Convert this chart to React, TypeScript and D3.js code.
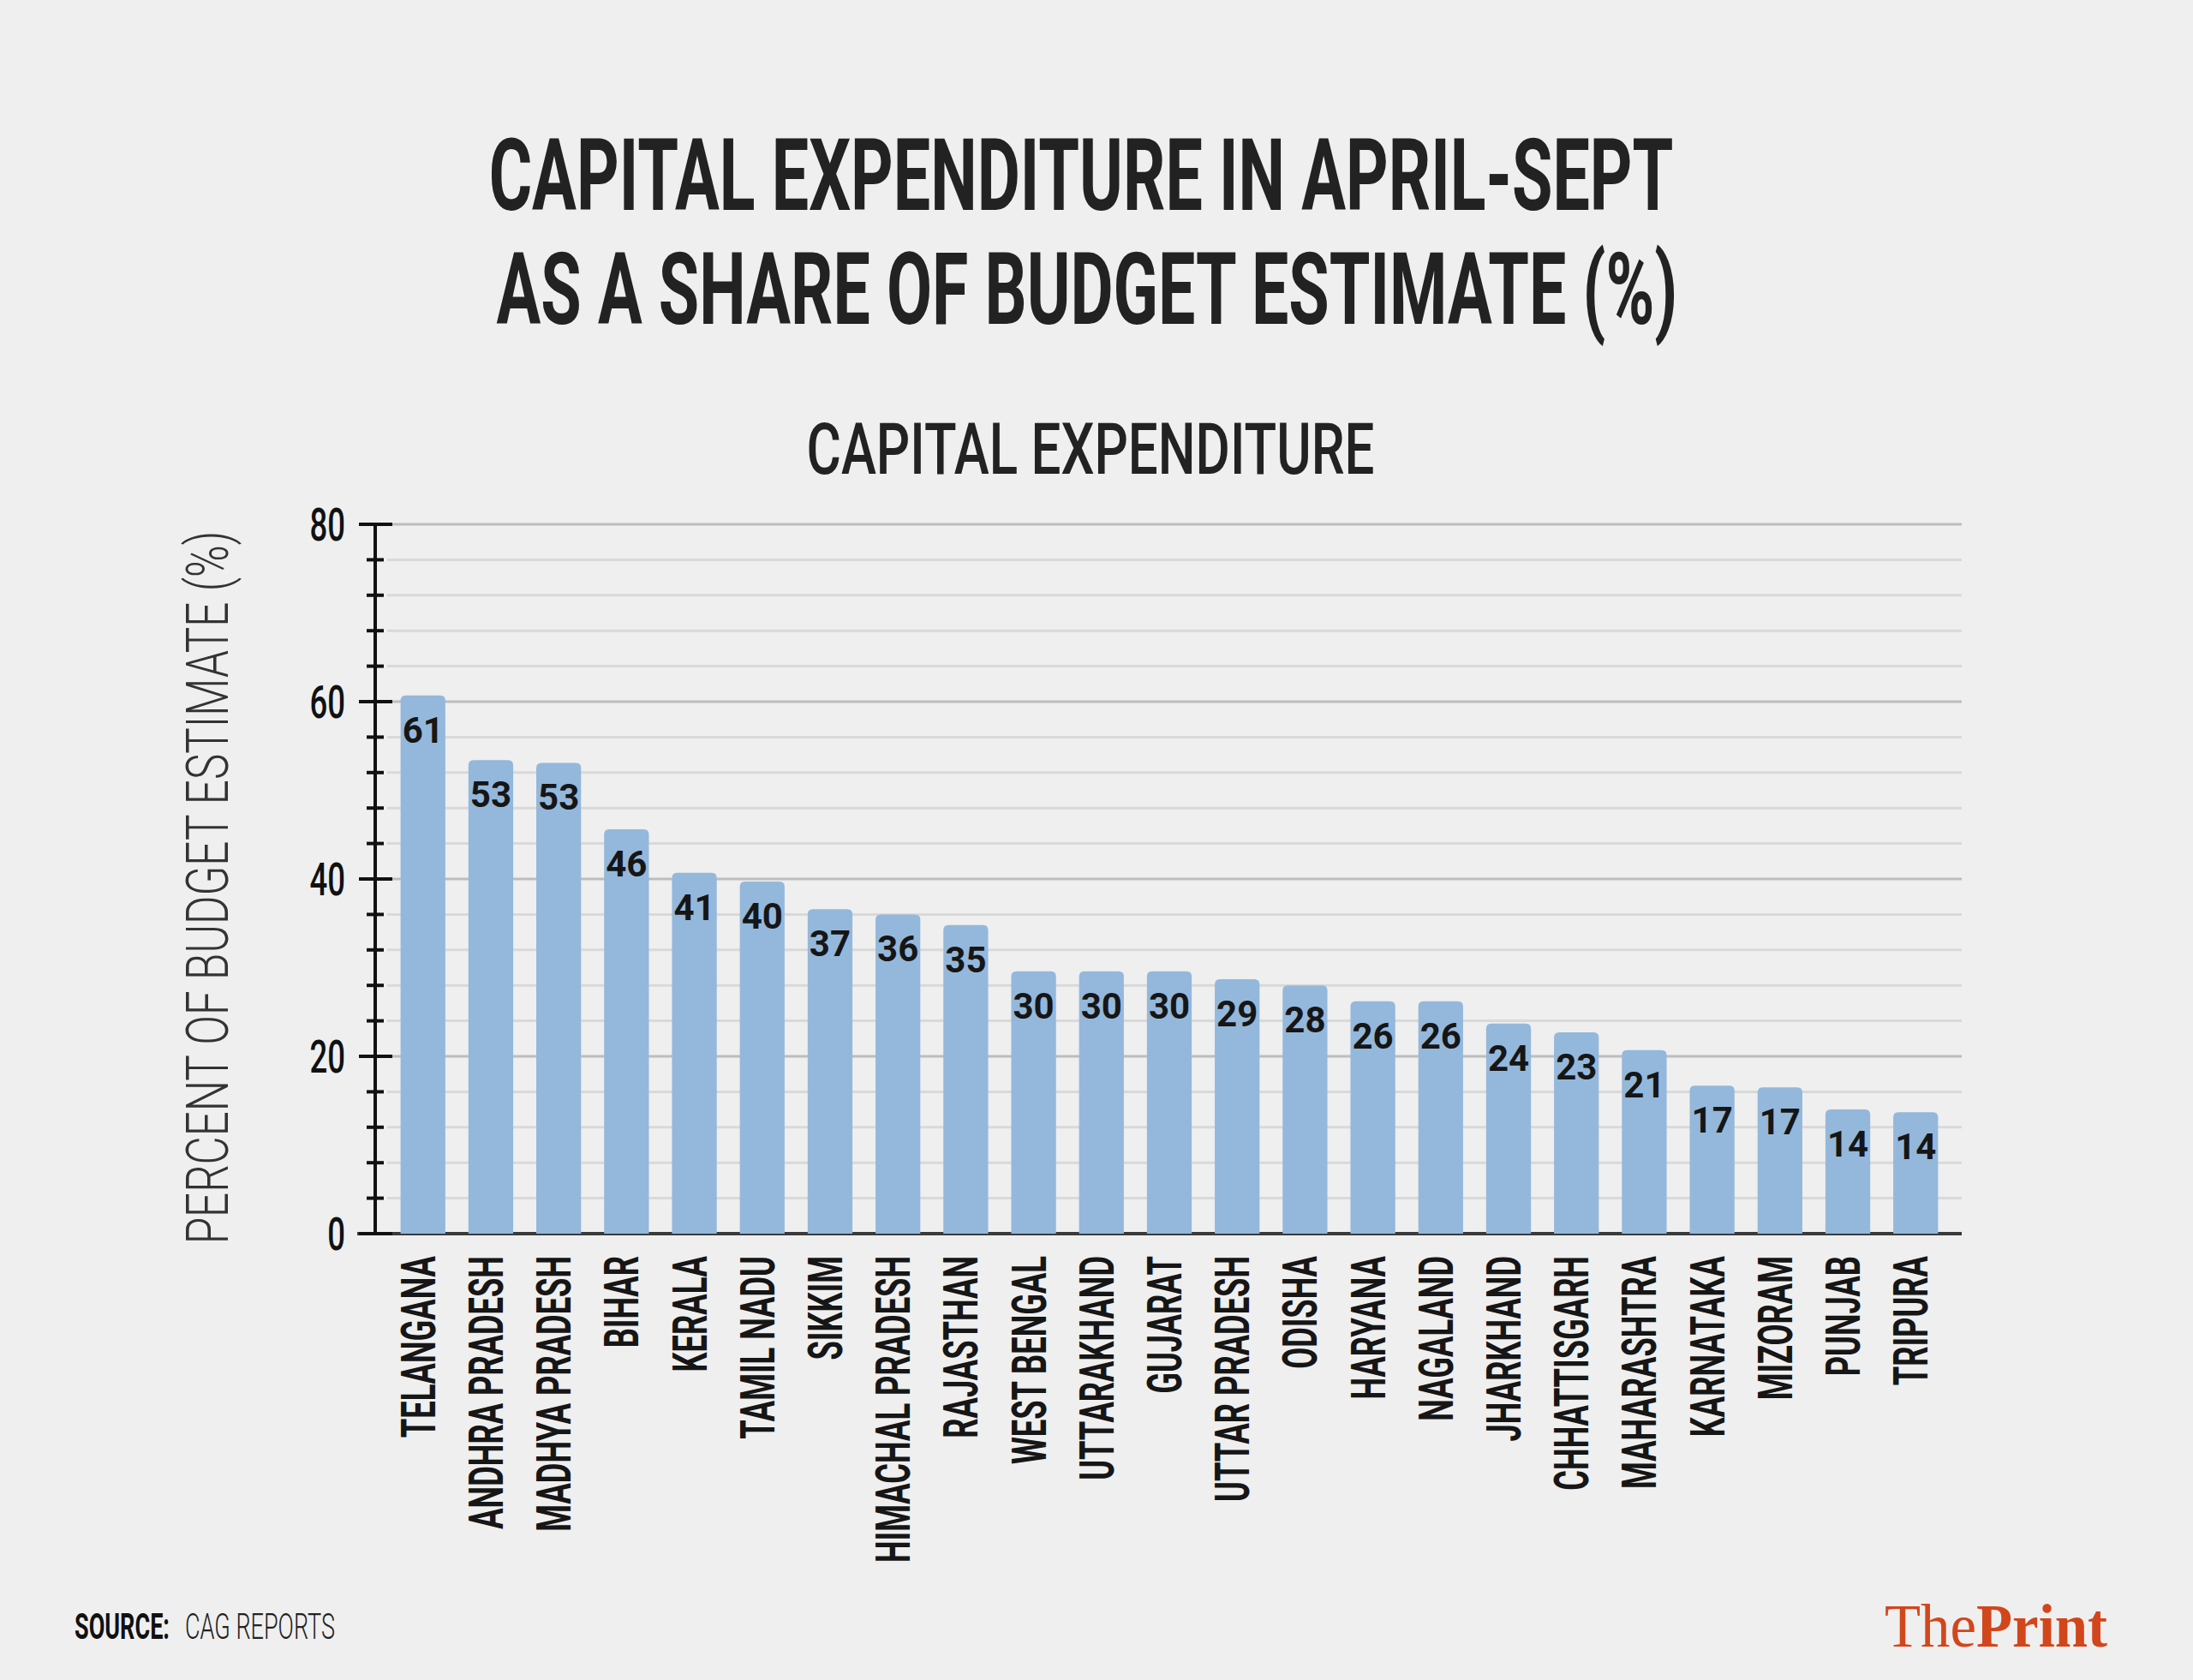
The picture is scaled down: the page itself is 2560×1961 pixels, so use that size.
import React, { useLayoutEffect, useRef, useState } from 'react';
import * as d3 from 'd3';

const states = [
  'TELANGANA', 'ANDHRA PRADESH', 'MADHYA PRADESH', 'BIHAR', 'KERALA', 'TAMIL NADU',
  'SIKKIM', 'HIMACHAL PRADESH', 'RAJASTHAN', 'WEST BENGAL', 'UTTARAKHAND', 'GUJARAT',
  'UTTAR PRADESH', 'ODISHA', 'HARYANA', 'NAGALAND', 'JHARKHAND', 'CHHATTISGARH',
  'MAHARASHTRA', 'KARNATAKA', 'MIZORAM', 'PUNJAB', 'TRIPURA',
];
const values = [
  60.7, 53.4, 53.1, 45.6, 40.7, 39.7, 36.6, 36.0, 34.8, 29.6, 29.6, 29.6,
  28.7, 28.0, 26.2, 26.2, 23.7, 22.7, 20.7, 16.7, 16.5, 14.0, 13.7,
];
const valueLabels = [
  '61', '53', '53', '46', '41', '40', '37', '36', '35', '30', '30', '30',
  '29', '28', '26', '26', '24', '23', '21', '17', '17', '14', '14',
];
const yTicks = [0, 20, 40, 60, 80];
const titleLines = ['CAPITAL EXPENDITURE IN APRIL-SEPT', 'AS A SHARE OF BUDGET ESTIMATE (%)'];
const subtitle = 'CAPITAL EXPENDITURE';
const yAxisLabel = 'PERCENT OF BUDGET ESTIMATE (%)';
const sourceLabel = 'SOURCE:';
const sourceText = 'CAG REPORTS';

const FONT = 'Roboto, "Noto Sans", sans-serif';

type FitProps = {
  x: number;
  y: number;
  width: number;
  anchor: 'start' | 'middle' | 'end';
  rotate?: number;
  children: React.ReactNode;
  [k: string]: any;
};

function FitText({ x, y, width, anchor, rotate = 0, children, ...rest }: FitProps) {
  const ref = useRef<SVGTextElement>(null);
  const [s, setS] = useState(1);
  useLayoutEffect(() => {
    if (ref.current) {
      const len = ref.current.getComputedTextLength();
      if (len > 0) setS(width / len);
    }
  }, [width, children]);
  return (
    <g transform={`translate(${x},${y}) rotate(${rotate}) scale(${s},1)`}>
      <text ref={ref} x={0} y={0} textAnchor={anchor} {...rest}>{children}</text>
    </g>
  );
}

export default function App() {
  const W = 2560;
  const H = 1961;
  const y = d3.scaleLinear().domain([0, 80]).range([1440, 612]);
  const x = d3
    .scaleBand<string>()
    .domain(states)
    .range([428, 2302])
    .paddingInner(0.34)
    .paddingOuter(0.5);
  const bw = x.bandwidth();
  const minorTicks = d3.range(0, 81, 4);
  const axisX = 438;
  const gridEnd = 2290;

  const barPath = (x0: number, w: number, yt: number, yb: number) => {
    const r = Math.min(6, (yb - yt) / 2);
    const p = d3.path();
    p.moveTo(x0, yb);
    p.lineTo(x0, yt + r);
    p.quadraticCurveTo(x0, yt, x0 + r, yt);
    p.lineTo(x0 + w - r, yt);
    p.quadraticCurveTo(x0 + w, yt, x0 + w, yt + r);
    p.lineTo(x0 + w, yb);
    p.closePath();
    return p.toString();
  };

  return (
    <svg
      width={W}
      height={H}
      viewBox={`0 0 ${W} ${H}`}
      style={{ position: 'absolute', left: 0, top: 0, display: 'block' }}
    >
      <rect x={0} y={0} width={W} height={H} fill="#efefef" />

      {/* Titles */}
      <FitText x={1262} y={245} width={1383} anchor="middle" fontFamily={FONT} fontWeight={700}
        fontSize={116} fill="#222">{titleLines[0]}</FitText>
      <FitText x={1269} y={378} width={1379} anchor="middle" fontFamily={FONT} fontWeight={700}
        fontSize={116} fill="#222">{titleLines[1]}</FitText>
      <FitText x={1273} y={553} width={663} anchor="middle" fontFamily={FONT} fontWeight={500}
        fontSize={84} fill="#222">{subtitle}</FitText>

      {/* Gridlines */}
      {minorTicks.map((t) => (
        <line key={`g${t}`} x1={452} x2={gridEnd} y1={y(t)} y2={y(t)}
          stroke={t % 20 === 0 ? '#bdbdbd' : '#d9d9d9'} strokeWidth={3} />
      ))}

      {/* Baseline */}
      <line x1={417} x2={gridEnd} y1={y(0)} y2={y(0)} stroke="#3a3a3a" strokeWidth={4} />

      {/* Bars */}
      {states.map((s, i) => (
        <path key={`b${s}`} d={barPath(x(s)!, bw, y(values[i]), y(0))} fill="#94b8dc" />
      ))}

      {/* Value labels */}
      {states.map((s, i) => (
        <text key={`v${s}`} x={x(s)! + bw / 2} y={y(values[i]) + 55} textAnchor="middle"
          fontFamily={FONT} fontWeight={700} fontSize={42} fill="#161616">{valueLabels[i]}</text>
      ))}

      {/* Y axis */}
      <line x1={axisX} x2={axisX} y1={y(80)} y2={y(0)} stroke="#111" strokeWidth={4} />
      {minorTicks.map((t) => (
        t % 20 === 0 ? (
          <line key={`t${t}`} x1={419} x2={458} y1={y(t)} y2={y(t)} stroke="#111" strokeWidth={4} />
        ) : (
          <line key={`t${t}`} x1={428} x2={448} y1={y(t)} y2={y(t)} stroke="#111" strokeWidth={4} />
        )
      ))}
      {yTicks.map((t) => (
        <g key={`yl${t}`} transform={`translate(403,${y(t) + 19}) scale(0.69,1)`}>
          <text x={0} y={0} textAnchor="end" fontFamily={FONT} fontWeight={500} fontSize={53} fill="#111">{t}</text>
        </g>
      ))}

      {/* Y axis label */}
      <FitText x={266} y={1036} rotate={-90} width={833} anchor="middle" fontFamily={FONT}
        fontWeight={300} fontSize={69} fill="#333">{yAxisLabel}</FitText>

      {/* X labels */}
      {states.map((s) => (
        <g key={`xl${s}`} transform={`translate(${x(s)! + bw / 2 + 14},1466) rotate(-90) scale(0.66,1)`}>
          <text x={0} y={0} textAnchor="end" fontFamily={FONT} fontWeight={700} fontSize={55} fill="#161616">{s}</text>
        </g>
      ))}

      {/* Source */}
      <FitText x={87} y={1913} width={111} anchor="start" fontFamily={FONT} fontWeight={700}
        fontSize={42} fill="#111">{sourceLabel}</FitText>
      <FitText x={216} y={1913} width={175} anchor="start" fontFamily={FONT} fontWeight={300}
        fontSize={42} fill="#222">{sourceText}</FitText>

      {/* Logo */}
      <FitText x={2200} y={1922} width={260} anchor="start"
        fontFamily='"Liberation Serif", "DejaVu Serif", serif' fontSize={72} fill="#d2461c">
        <tspan fontWeight={400}>The</tspan>
        <tspan fontWeight={700}>Print</tspan>
      </FitText>
    </svg>
  );
}
